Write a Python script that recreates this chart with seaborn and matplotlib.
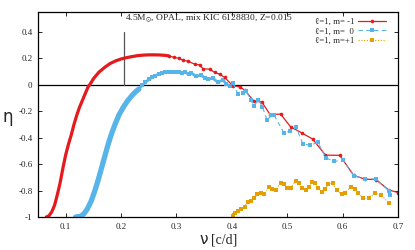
import pandas as pd
import matplotlib
matplotlib.use("Agg")
import matplotlib.pyplot as plt
import seaborn as sns

# values
red_x_dense = [0.065, 0.070, 0.075, 0.080, 0.085, 0.090, 0.095, 0.100, 0.105, 0.110, 0.115,
               0.120, 0.125, 0.130, 0.135, 0.140, 0.145, 0.150, 0.160, 0.170, 0.180, 0.190,
               0.200, 0.210, 0.220, 0.230, 0.240, 0.250, 0.260, 0.270, 0.280, 0.286]
red_y_dense = [-1.0, -0.99, -0.96, -0.91, -0.83, -0.74, -0.63, -0.53, -0.45, -0.38, -0.30,
               -0.23, -0.17, -0.12, -0.07, -0.02, 0.01, 0.045, 0.095, 0.13, 0.16, 0.18,
               0.195, 0.205, 0.213, 0.22, 0.224, 0.226, 0.226, 0.225, 0.222, 0.218]
red_x = [0.286, 0.295, 0.304, 0.312, 0.321, 0.333, 0.342, 0.348, 0.360, 0.369, 0.378,
         0.387, 0.402, 0.414, 0.423, 0.440, 0.454, 0.469, 0.488, 0.506, 0.527, 0.546,
         0.569, 0.595, 0.620, 0.641, 0.660, 0.683, 0.700]
red_y = [0.218, 0.208, 0.200, 0.185, 0.178, 0.155, 0.150, 0.120, 0.118, 0.093, 0.080,
         0.055, -0.008, -0.015, -0.040, -0.125, -0.130, -0.225, -0.222, -0.318, -0.366, -0.411,
         -0.532, -0.534, -0.686, -0.714, -0.717, -0.795, -0.815]

blue_x_dense = [0.118, 0.127, 0.133, 0.139, 0.146, 0.152, 0.158, 0.164, 0.170, 0.176, 0.182,
                0.189, 0.196, 0.204, 0.212, 0.220, 0.227, 0.232]
blue_y_dense = [-1.0, -0.995, -0.975, -0.94, -0.88, -0.81, -0.73, -0.64, -0.55, -0.46, -0.38,
                -0.30, -0.23, -0.17, -0.12, -0.08, -0.05, -0.033]
blue_x_wavy = [0.232, 0.238, 0.244, 0.250, 0.256, 0.262, 0.268, 0.274, 0.280, 0.286, 0.292,
               0.298, 0.304, 0.310, 0.316, 0.322, 0.327, 0.336, 0.345, 0.351, 0.357, 0.366,
               0.375, 0.384, 0.390, 0.396, 0.402]
blue_y_wavy = [-0.033, -0.005, 0.018, 0.040, 0.055, 0.068, 0.080, 0.088, 0.093, 0.096, 0.098,
               0.095, 0.098, 0.092, 0.093, 0.080, 0.088, 0.063, 0.073, 0.050, 0.043, 0.048,
               0.018, 0.038, 0.005, -0.008, 0.013]
blue_x = [0.402, 0.411, 0.420, 0.426, 0.434, 0.440, 0.448, 0.455, 0.464, 0.471, 0.476,
          0.494, 0.505, 0.516, 0.528, 0.542, 0.555, 0.570, 0.585, 0.601, 0.620, 0.640,
          0.661, 0.684, 0.686]
blue_y = [0.013, -0.070, -0.063, -0.045, -0.115, -0.158, -0.115, -0.165, -0.270, -0.228, -0.228,
          -0.363, -0.353, -0.321, -0.446, -0.459, -0.433, -0.554, -0.579, -0.571, -0.689, -0.709,
          -0.714, -0.805, -0.830]

orange_x = [0.402, 0.405, 0.411, 0.417, 0.423, 0.429, 0.434, 0.440, 0.446, 0.452, 0.458,
            0.467, 0.473, 0.479, 0.488, 0.494, 0.500, 0.506, 0.515, 0.521, 0.527, 0.533,
            0.539, 0.545, 0.551, 0.555, 0.5625, 0.568, 0.574, 0.582, 0.589, 0.598, 0.604,
            0.616, 0.622, 0.628, 0.637, 0.648, 0.658, 0.670, 0.684]
orange_y = [-0.99, -0.972, -0.952, -0.942, -0.922, -0.885, -0.877, -0.860, -0.827, -0.822, -0.827,
            -0.772, -0.792, -0.797, -0.742, -0.752, -0.784, -0.784, -0.727, -0.742, -0.784, -0.797,
            -0.772, -0.734, -0.742, -0.784, -0.810, -0.792, -0.752, -0.742, -0.797, -0.827, -0.817,
            -0.772, -0.792, -0.817, -0.860, -0.860, -0.822, -0.835, -0.897]

labels = ["\u2113=1, m= -1", "\u2113=1, m=  0", "\u2113=1, m=+1"]
title_text = r"4.5M$_{\odot}$, OPAL, mix KIC 6128830, Z=0.015"

red = "#e41a1c"
blue = "#56b4e9"
orange = "#e69f00"

sns.set_style("ticks")
plt.rcParams["font.family"] = ["Liberation Serif", "DejaVu Serif"]
plt.rcParams["mathtext.fontset"] = "stix"

fig = plt.figure(figsize=(4.15, 2.5), dpi=100)
ax = fig.add_axes([38 / 415, 1 - 217 / 250, 360 / 415, 205 / 250])

# zero line and marker line
ax.axhline(0, color="black", lw=0.9, zorder=1)
ax.plot([0.205, 0.205], [0, 0.4], color="#555555", lw=0.9, zorder=1)

# dense parts drawn as thick bands
sns.lineplot(x=red_x_dense, y=red_y_dense, ax=ax, color=red, lw=2.3, sort=False, estimator=None)
sns.lineplot(x=blue_x_dense, y=blue_y_dense, ax=ax, color=blue, lw=3.8, sort=False, estimator=None)
sns.lineplot(x=blue_x_wavy, y=blue_y_wavy, ax=ax, color=blue, lw=2.0, marker="s", markersize=3.4,
             markeredgewidth=0, sort=False, estimator=None)

sns.lineplot(x=red_x, y=red_y, ax=ax, color=red, lw=0.9, marker="o", markersize=2.6,
             markeredgewidth=0, sort=False, estimator=None, label=labels[0])
sns.lineplot(x=blue_x, y=blue_y, ax=ax, color=blue, lw=0.8, linestyle=(0, (4, 3)), marker="s",
             markersize=3.2, markeredgewidth=0, sort=False, estimator=None, label=labels[1])
sns.lineplot(x=orange_x, y=orange_y, ax=ax, color=orange, lw=0.8, linestyle=(0, (1, 1.5)), marker="s",
             markersize=3.2, markeredgewidth=0, sort=False, estimator=None, label=labels[2])

ax.set_xlim(0.05, 0.7)
ax.set_ylim(-1, 0.55)
ax.set_xticks([0.1, 0.2, 0.3, 0.4, 0.5, 0.6, 0.7])
ax.set_xticklabels(["0.1", "0.2", "0.3", "0.4", "0.5", "0.6", "0.7"])
ax.set_yticks([-1, -0.8, -0.6, -0.4, -0.2, 0, 0.2, 0.4])
ax.set_yticklabels(["-1", "-0.8", "-0.6", "-0.4", "-0.2", "0", "0.2", "0.4"])
ax.tick_params(direction="in", length=3, width=0.7, labelsize=6.5, top=True, right=True, pad=4)
for s in ax.spines.values():
    s.set_linewidth(0.9)
    s.set_color("black")

ax.text(0.207, 0.505, title_text, fontsize=6.8, va="center", ha="left")

ax.set_xlabel("")
ax.set_ylabel("")
fig.text(8 / 415, 1 - 117 / 250, "\u03b7", family="DejaVu Sans", fontsize=12, ha="center", va="center")
fig.text(208 / 415, 1 - 240 / 250, "\u03bd", family="DejaVu Sans", fontsize=11, ha="right", va="center")
fig.text(211 / 415, 1 - 240 / 250, "[c/d]", fontsize=10, ha="left", va="center")

leg = ax.legend(loc="upper right", bbox_to_anchor=(0.985, 1.0), frameon=False, markerfirst=False,
                fontsize=6.3, handlelength=3.2, handletextpad=0.5, labelspacing=0.12, borderpad=0.2)

fig.savefig("out.png", dpi=100)
